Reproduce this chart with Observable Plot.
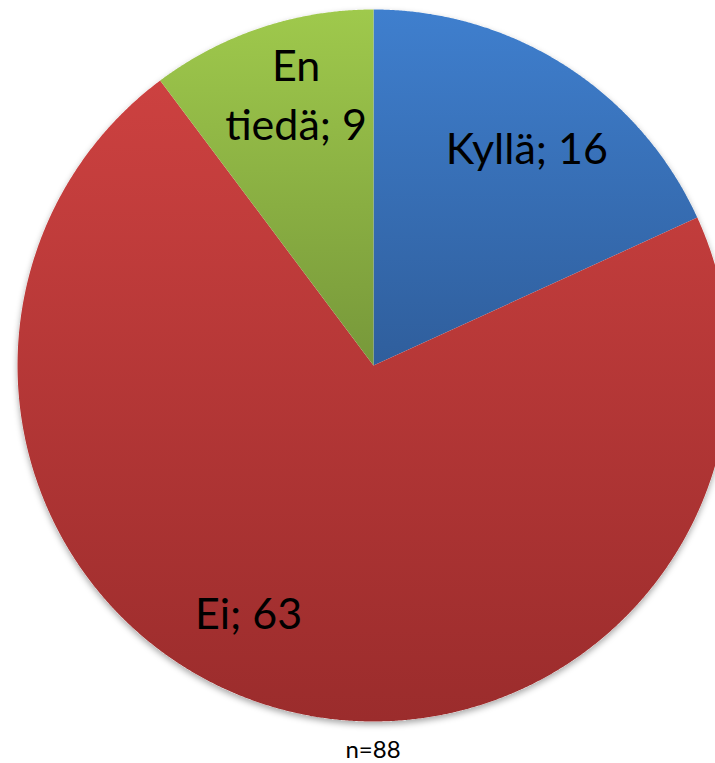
<!DOCTYPE html>
<html>
<head>
<meta charset="utf-8">
<script src="https://cdn.jsdelivr.net/npm/d3@7"></script>
<script src="https://cdn.jsdelivr.net/npm/@observablehq/plot@0.6"></script>
<style>
  html, body { margin: 0; padding: 0; background: #fff; }
  #chart svg { display: block; }
</style>
</head>
<body>
<div id="chart"></div>
<script>
// Data
const categories = ["Kyllä", "Ei", "En tiedä"];
const values = [16, 63, 9];
const labels = ["Kyllä; 16", "Ei; 63", "En\ntiedä; 9"];
const caption = "n=" + d3.sum(values);

// Styles (kept separate from data)
const gradTop = ["#3f7fce", "#cc4140", "#9fc94c"];
const gradBottom = ["#2f5e9c", "#9b2c2c", "#77983a"];
const labelOffsets = [[7, 7], [-58, -17], [8, -17]]; // pixel nudges
const labelRadius = 0.76;

const W = 715, H = 763, CX = 373, CY = 365, R = 356;

// slice geometry in data units (unit circle), clockwise from top
const pie = d3.pie().sort(null).value(d => d)(values);
const slices = pie.map((p, i) => {
  const pts = [{x: 0, y: 0}];
  const n = Math.max(8, Math.ceil((p.endAngle - p.startAngle) / (Math.PI / 720)));
  for (let k = 0; k <= n; k++) {
    const a = p.startAngle + (p.endAngle - p.startAngle) * k / n;
    pts.push({x: Math.sin(a), y: Math.cos(a)});
  }
  pts.push({x: 0, y: 0});
  return pts;
});
const fullCircle = d3.range(0, 721).map(k => {
  const a = k / 720 * 2 * Math.PI;
  return {x: Math.sin(a), y: Math.cos(a)};
});

const labelData = pie.map((p, i) => {
  const a = (p.startAngle + p.endAngle) / 2;
  return {x: labelRadius * Math.sin(a), y: labelRadius * Math.cos(a), text: labels[i], i};
});

const marks = [
  Plot.line(fullCircle, {x: "x", y: "y", fill: "#ffffff", stroke: "none"}),
  ...slices.map((pts, i) =>
    Plot.line(pts, {x: "x", y: "y", fill: gradTop[i], stroke: "none"})
  ),
  ...labelData.map(d =>
    Plot.text([d], {
      x: "x", y: "y", text: "text",
      dx: labelOffsets[d.i][0], dy: labelOffsets[d.i][1],
      fontSize: 43, fill: "#000", lineHeight: 1.36,
      fontFamily: "Lato, 'Open Sans', sans-serif"
    })
  ),
  Plot.text([caption], {
    frameAnchor: "bottom", text: d => d, dx: 15, dy: -6,
    fontSize: 24, fill: "#000", fontFamily: "Lato, 'Open Sans', sans-serif"
  })
];

const chart = Plot.plot({
  width: W, height: H,
  marginTop: 0, marginRight: 0, marginBottom: 0, marginLeft: 0,
  x: {domain: [-CX / R, (W - CX) / R], axis: null},
  y: {domain: [(CY - H) / R, CY / R], axis: null},
  style: {background: "#fff"},
  marks
});

// gradients + shadow
const svg = d3.select(chart);
const defs = svg.insert("defs", ":first-child");
const lineGroups = svg.selectAll("g[aria-label='line']").nodes();
gradTop.forEach((c, i) => {
  const g = defs.append("linearGradient").attr("id", `pieg${i}`)
    .attr("x1", 0).attr("y1", 0).attr("x2", 0).attr("y2", 1);
  g.append("stop").attr("offset", "0%").attr("stop-color", c);
  g.append("stop").attr("offset", "100%").attr("stop-color", gradBottom[i]);
  d3.select(lineGroups[i + 1]).attr("fill", `url(#pieg${i})`);
});
const f = defs.append("filter").attr("id", "pieshadow")
  .attr("x", "-10%").attr("y", "-10%").attr("width", "120%").attr("height", "120%");
f.append("feDropShadow").attr("dx", 0).attr("dy", 3).attr("stdDeviation", 3)
  .attr("flood-color", "#000").attr("flood-opacity", 0.35);
d3.select(lineGroups[0]).attr("filter", "url(#pieshadow)");

document.getElementById("chart").appendChild(chart);
</script>
</body>
</html>
